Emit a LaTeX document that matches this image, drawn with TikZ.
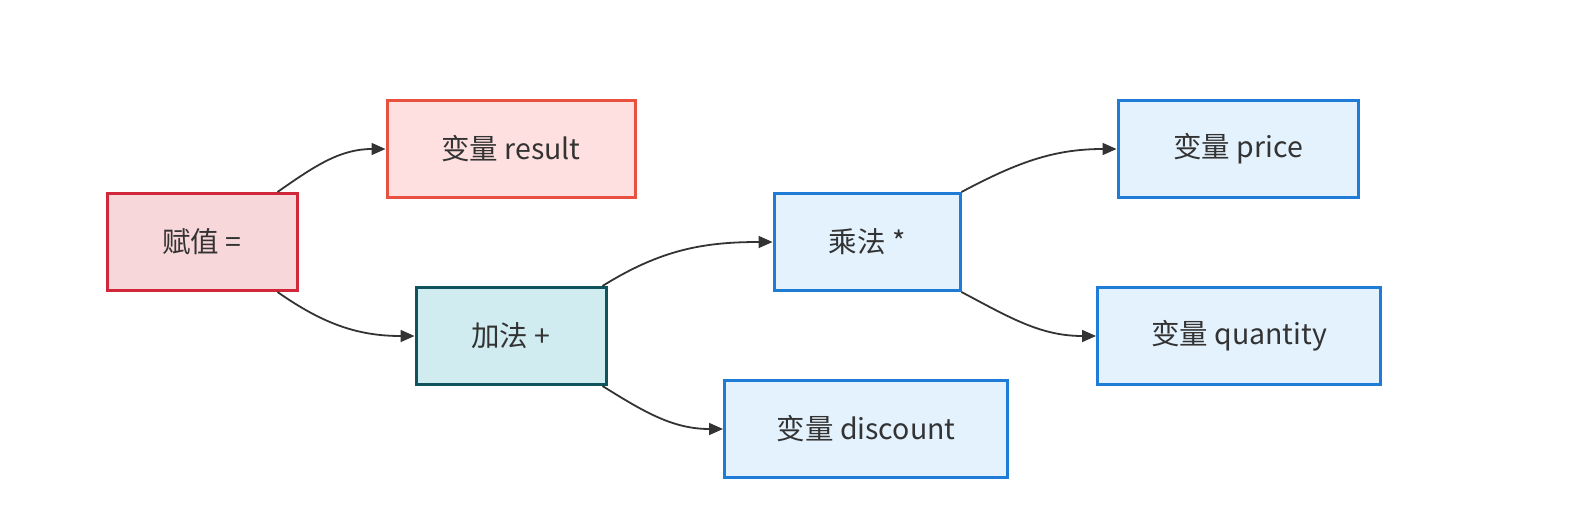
\documentclass[tikz,border=0pt]{standalone}
\usepackage{fontspec}
\setmainfont{Noto Sans CJK SC}
\usetikzlibrary{arrows.meta}

\definecolor{txtgray}{HTML}{333333}
\definecolor{assignfill}{HTML}{F8D7DA}
\definecolor{assigndraw}{HTML}{D0273A}
\definecolor{resultfill}{HTML}{FFE0E0}
\definecolor{resultdraw}{HTML}{E8503F}
\definecolor{addfill}{HTML}{D1ECF1}
\definecolor{adddraw}{HTML}{0F545C}
\definecolor{varfill}{HTML}{E3F2FD}
\definecolor{vardraw}{HTML}{1E7BD6}

\tikzset{
  opbox/.style={draw, line width=3pt, minimum height=97pt, text=txtgray,
    font=\fontsize{28.5}{32}\selectfont, inner sep=0pt},
  assignbox/.style={opbox, fill=assignfill, draw=assigndraw},
  resultbox/.style={opbox, fill=resultfill, draw=resultdraw},
  addbox/.style={opbox, fill=addfill, draw=adddraw},
  varbox/.style={opbox, fill=varfill, draw=vardraw},
  edge/.style={draw=txtgray, line width=1.8pt,
    -{Triangle[length=14pt,width=12pt]}}
}

\begin{document}
\begin{tikzpicture}[x=1pt, y=-1pt]

  \useasboundingbox (0,0) rectangle (1576,532);

  % --- nodi ---
  \node[assignbox, minimum width=190pt] (assign) at (202,242) {赋值 =};
  \node[resultbox, minimum width=248pt] (result) at (511,149) {变量 result};
  \node[addbox,    minimum width=190pt] (add)    at (511,336) {加法 +};
  \node[varbox,    minimum width=186pt] (mul)    at (867,242) {乘法 *};
  \node[varbox,    minimum width=283pt] (discount) at (866,429) {变量 discount};
  \node[varbox,    minimum width=240pt] (price)  at (1238,149) {变量 price};
  \node[varbox,    minimum width=283pt] (quantity) at (1239,336) {变量 quantity};

  % --- archi ---
  \draw[edge] ([xshift=-21pt]assign.north east) to[out=35, in=180] (result.west);
  \draw[edge] ([xshift=-21pt]assign.south east) to[out=-35, in=180] (add.west);
  \draw[edge] ([xshift=-5pt]add.north east) to[out=32, in=180] (mul.west);
  \draw[edge] ([xshift=-5pt]add.south east) to[out=-32, in=180] (discount.west);
  \draw[edge] (mul.north east) to[out=28, in=180] (price.west);
  \draw[edge] (mul.south east) to[out=-28, in=180] (quantity.west);

\end{tikzpicture}
\end{document}
